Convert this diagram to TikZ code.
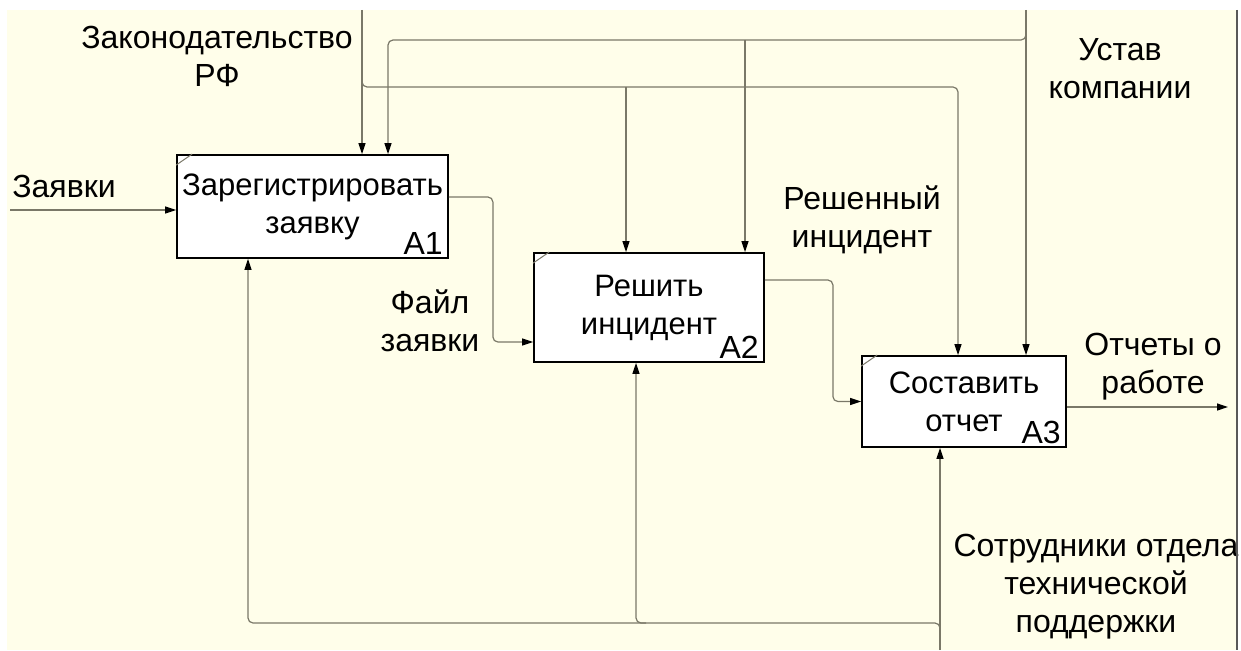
\documentclass[tikz,border=0pt]{standalone}
\usepackage{fontspec}
\setmainfont{Liberation Sans}
\usepackage{tikz}
\usetikzlibrary{arrows.meta,positioning}
\definecolor{paper}{RGB}{255,254,234}
\definecolor{wirecol}{RGB}{122,120,104}
\newcommand{\labfont}{\fontsize{32}{38}\selectfont}
\newcommand{\boxfont}{\fontsize{31}{38}\selectfont}

\begin{document}
\begin{tikzpicture}[x=1pt, y=-1pt,
    fbox/.style={rectangle, draw=black, line width=1.8pt, fill=white,
                 align=center, font=\boxfont, inner sep=0pt},
    num/.style={anchor=south east, font=\labfont, inner xsep=6pt, inner ysep=4pt},
    lbl/.style={align=center, font=\labfont, inner sep=0pt},
    wire/.style={draw=wirecol, line width=1.2pt, rounded corners=5pt},
    flow/.style={wire, -{Triangle[length=11pt, width=7pt, color=black]}},
    tick/.style={draw=wirecol, line width=1pt},
  ]
    \useasboundingbox (0,0) rectangle (1241,650);
    \fill[paper] (7,10) rectangle (1237,650);

    % activities
    \node[fbox, minimum width=271pt, minimum height=103pt] (a1) at (312.5,206.5) {Зарегистрировать\\заявку};
    \node[fbox, minimum width=230pt, minimum height=109pt] (a2) at (649,307.5)   {Решить\\инцидент};
    \node[fbox, minimum width=204pt, minimum height=91pt]  (a3) at (964,401.5)   {Составить\\отчет};
    \node[num] at (a1.south east) {A1};
    \node[num] at (a2.south east) {A2};
    \node[num] at (a3.south east) {A3};
    \foreach \b in {a1,a2,a3}
      \draw[tick] ([yshift=-11pt]\b.north west) -- ([xshift=16pt]\b.north west);

    % free ends
    \coordinate (req)   at (10,210);
    \coordinate (law)   at (362,10);
    \coordinate (lawj)  at (362,80);
    \coordinate (chart) at (1026,10);
    \coordinate (chartj) at (1026,34);
    \coordinate (staff) at (940,650);
    \coordinate (staffj) at (940,630);
    \coordinate (rep)   at (1228,407);

    % labels
    \node[lbl] (lreq)   at (64,186)   {Заявки};
    \node[lbl] (llaw)   at (217,56)   {Законодательство\\РФ};
    \node[lbl] (lchart) at (1120,69)  {Устав\\компании};
    \node[lbl] (lfile)  at (430,321)  {Файл\\заявки};
    \node[lbl] (lsolv)  at (862,220)  {Решенный\\инцидент};
    \node[lbl] (lrep)   at (1153,367) {Отчеты о\\работе};
    \node[lbl] (lstaff) at (1096,587) {Сотрудники отдела\\технической\\поддержки};
    \draw[black!65, line width=1.5pt] (1237,10) -- (1237,650);

    % inputs and outputs
    \draw[flow] (req) -- (req -| a1.west);
    \draw[flow] ([yshift=9.5pt]a1.east) -- ++(44,0) |- ([yshift=-34.5pt]a2.west);
    \draw[flow] ([yshift=27.5pt]a2.east) -- ++(68,0) |- (a3.west);
    \draw[flow] ([yshift=-5.5pt]a3.east) -- (rep);

    % controls
    \draw[flow] (law) -- (law |- a1.north);
    \draw[flow] (lawj) |- (958,87) -- (958,0 |- a3.north);
    \draw[flow] (626,87) -- (626,0 |- a2.north);
    \draw[flow] (chart) -- (chart |- a3.north);
    \draw[flow] (chartj) |- (388,40) -- (388,0 |- a1.north);
    \draw[flow] (745,40) -- (745,0 |- a2.north);

    % mechanisms
    \draw[flow] (staff) -- (staff |- a3.south);
    \draw[flow] (staffj) |- (248,623) -- (248,0 |- a1.south);
    \draw[flow] (646,623) -| (636,0 |- a2.south);
  \end{tikzpicture}
\end{document}
